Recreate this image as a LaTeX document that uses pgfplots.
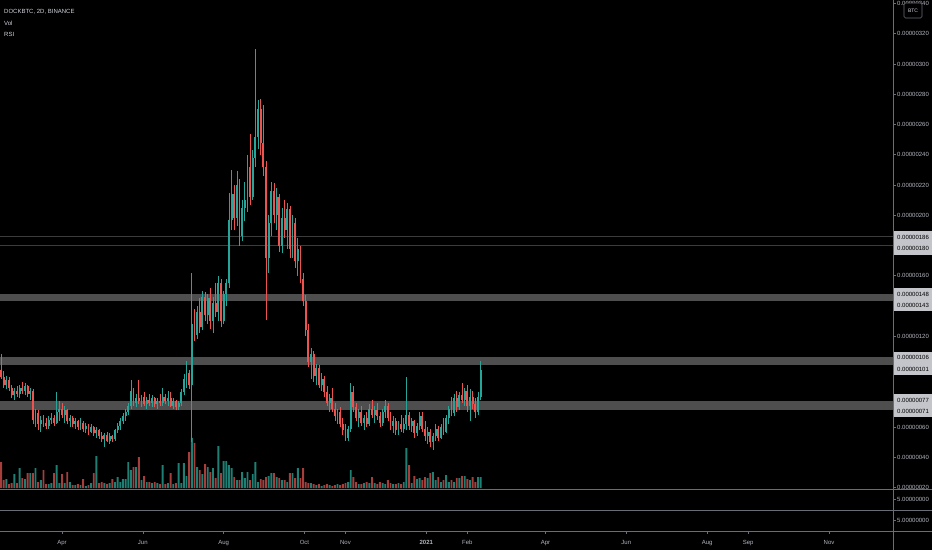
\documentclass[border=0pt]{standalone}
\usepackage{pgfplots}
\usepackage{pgfplotstable}
\usepackage{fontspec}
\pgfplotsset{compat=1.18}
\setmainfont{Liberation Sans}

\definecolor{upc}{HTML}{26A69A}
\definecolor{dnc}{HTML}{EF5350}
\definecolor{upv}{HTML}{1E7F74}
\definecolor{dnv}{HTML}{A63E3C}
\definecolor{band}{HTML}{4E4E4E}
\definecolor{lvl}{HTML}{3C3C3C}
\definecolor{sep}{HTML}{6A6D76}
\definecolor{txt}{HTML}{B2B5BE}
\definecolor{head}{HTML}{D1D4DC}
\definecolor{boxc}{HTML}{C3C5CA}

\newcommand{\tv}{\fontsize{6}{7}\selectfont}

% d = days since 1 Jan 2020, prices in satoshi (1e-8 BTC), v = volume (scaled)
\pgfplotstableread{
d o h l c v
45 98 108 92 93 26
47 93 97 86 88 8
49 88 94 85 91 9
51 91 93 84 86 4
53 86 88 79 81 5
55 81 86 78 84 14
57 84 87 80 82 5
59 82 88 79 86 20
61 86 90 82 84 10
63 84 89 81 87 9
65 87 88 80 82 15
67 82 86 78 84 15
69 84 85 62 65 15
71 65 72 60 69 20
73 69 71 58 62 6
75 62 67 57 65 8
77 65 68 60 63 18
79 63 66 59 61 4
81 61 67 59 65 4
83 65 69 62 66 5
85 66 68 61 63 15
87 63 83 62 70 23
89 70 77 64 72 5
91 72 76 66 68 14
93 68 74 63 71 5
95 71 72 62 64 16
97 64 68 60 66 6
99 66 67 60 62 3
101 62 66 59 64 3
103 64 65 58 60 4
105 60 66 58 63 3
107 63 64 57 59 9
109 59 63 56 61 2
111 61 62 55 57 3
113 57 62 56 60 5
115 60 61 54 56 15
117 56 60 53 58 32
119 58 59 52 54 5
121 54 57 50 52 6
123 52 56 47 55 5
125 55 57 50 51 4
127 51 56 49 54 5
129 54 55 50 52 9
131 52 59 51 58 6
133 58 63 56 61 11
135 61 66 58 64 6
137 64 69 62 67 9
139 67 72 64 70 9
141 70 76 68 74 26
143 74 91 72 84 18
145 84 86 74 76 21
147 76 82 73 79 21
149 79 91 75 77 31
151 77 81 73 80 8
153 80 83 74 75 12
155 75 80 72 78 6
157 78 82 74 76 6
159 76 81 73 79 5
161 79 80 73 75 6
163 75 79 72 77 5
165 77 82 74 76 4
167 76 86 74 80 23
169 80 82 75 77 4
171 77 84 74 79 5
173 79 83 73 74 15
175 74 79 72 77 4
177 77 78 71 73 5
179 73 77 71 76 25
181 76 85 74 83 5
183 83 95 81 92 25
185 92 104 86 96 12
187 96 98 85 88 36
189 88 162 50 128 50
191 128 138 117 121 45
193 121 140 118 136 21
195 136 145 122 126 18
197 126 150 124 146 14
199 146 149 130 134 24
201 134 148 128 145 21
203 145 152 125 130 16
205 130 146 122 142 20
207 142 155 133 136 10
209 136 160 130 155 42
211 155 158 126 130 15
213 130 150 128 148 27
215 148 158 140 155 27
217 155 215 152 197 23
219 197 230 190 214 20
221 214 220 190 198 11
223 198 229 193 220 8
225 220 224 180 186 8
227 186 210 183 205 16
229 205 222 196 210 10
231 210 240 202 232 16
233 232 254 207 212 8
235 212 243 210 238 14
237 238 310 232 252 26
239 252 276 244 270 6
241 270 277 240 248 9
243 248 273 226 232 8
245 232 236 131 172 11
247 172 200 162 195 12
249 195 222 186 216 15
251 216 221 195 200 15
253 200 218 190 212 11
255 212 214 176 180 10
257 180 205 175 198 8
259 198 210 185 190 8
261 190 208 178 204 6
263 204 206 172 178 15
265 178 200 172 195 15
267 195 198 165 170 10
269 170 185 160 178 20
271 178 180 155 158 10
273 158 162 140 143 20
275 143 147 120 124 6
277 124 128 100 103 5
279 103 112 92 108 5
281 108 110 90 94 4
283 94 102 88 99 3
285 99 101 86 88 4
287 88 96 84 92 2
289 92 94 80 83 3
291 83 87 74 76 4
293 76 82 70 79 3
295 79 86 70 72 2
297 72 76 64 67 3
299 67 72 62 70 4
301 70 73 60 62 3
303 62 66 55 58 4
305 58 62 51 53 5
307 53 61 51 59 6
309 59 89 57 83 18
311 83 87 70 73 11
313 73 76 64 66 6
315 66 72 60 70 4
317 70 74 61 63 4
319 63 68 58 66 5
321 66 70 60 62 6
323 62 75 61 72 5
325 72 78 66 68 11
327 68 74 63 71 5
329 71 76 65 67 4
331 67 70 60 63 6
333 63 72 61 70 5
335 70 78 66 74 4
337 74 76 64 66 8
339 66 70 58 61 5
341 61 67 56 64 4
343 64 66 55 58 4
345 58 64 55 62 5
347 62 68 57 59 4
349 59 66 56 62 6
351 62 93 58 68 40
353 68 70 58 61 23
355 61 66 57 64 5
357 64 65 53 56 12
359 56 63 54 61 9
361 61 70 58 67 10
363 67 70 57 59 8
365 59 64 51 54 11
367 54 60 49 57 10
369 57 59 47 50 15
371 50 56 45 54 16
373 54 62 51 59 8
375 59 61 51 53 11
377 53 62 52 60 6
379 60 66 55 57 8
381 57 68 56 66 13
383 66 74 62 72 6
385 72 80 67 69 8
387 69 82 67 79 6
389 79 84 70 73 10
391 73 83 71 81 10
393 81 89 76 78 12
395 78 86 74 84 12
397 84 88 70 74 9
399 74 85 64 80 8
401 80 84 72 75 11
403 75 79 66 70 6
405 70 83 68 80 11
407 80 104 78 98 11
}\candles

\pgfplotsset{
  up/.style={x filter/.expression={\thisrow{c}>=\thisrow{o} ? x : nan}},
  down/.style={x filter/.expression={\thisrow{c}<\thisrow{o} ? x : nan}},
}

\begin{document}
\begin{tikzpicture}
\useasboundingbox (0pt,0pt) rectangle (932pt,550pt);
\fill[black] (0pt,0pt) rectangle (932pt,550pt);

% volume overlay
\begin{scope}[yshift=62pt]
\begin{axis}[at={(0pt,0pt)}, anchor=south west, scale only axis,
  width=893pt, height=60pt, xmin=44.2, xmax=718.3, ymin=0, ymax=60,
  hide axis]
\addplot[ybar, bar width=1.9pt, bar shift=0pt, fill=upv, draw=none, up]
  table[x=d, y=v] \candles;
\addplot[ybar, bar width=1.9pt, bar shift=0pt, fill=dnv, draw=none, down]
  table[x=d, y=v] \candles;
\end{axis}
\end{scope}

% price pane
\begin{scope}[yshift=61pt]
\begin{axis}[at={(0pt,0pt)}, anchor=south west, scale only axis,
  width=893pt, height=489pt, xmin=44.2, xmax=718.3, ymin=19.07, ymax=342.27,
  axis x line=none, axis y line*=right, y axis line style={draw=none},
  ytick={20,40,60,120,160,200,220,240,260,280,300,320,340},
  yticklabels={0.00000020,0.00000040,0.00000060,0.00000120,0.00000160,
    0.00000200,0.00000220,0.00000240,0.00000260,0.00000280,0.00000300,
    0.00000320,0.00000340},
  ytick align=outside, major tick length=3pt,
  y tick style={draw=sep, line width=0.6pt},
  yticklabel style={font=\tv, text=txt, anchor=west, inner sep=1pt}]
\fill[band] (axis cs:44.2,143) rectangle (axis cs:718.3,148);
\fill[band] (axis cs:44.2,101) rectangle (axis cs:718.3,106);
\fill[band] (axis cs:44.2,71) rectangle (axis cs:718.3,77);
\draw[lvl, line width=0.8pt] (axis cs:44.2,186) -- (axis cs:718.3,186);
\draw[lvl, line width=0.8pt] (axis cs:44.2,180) -- (axis cs:718.3,180);
% wicks
\addplot[draw=none, mark=none, up, error bars/.cd, y dir=plus, y explicit,
  error mark=none, error bar style={draw=upc, line width=0.7pt}]
  table[x=d, y=l, y error plus expr=\thisrow{h}-\thisrow{l}] \candles;
\addplot[draw=none, mark=none, down, error bars/.cd, y dir=plus, y explicit,
  error mark=none, error bar style={draw=dnc, line width=0.7pt}]
  table[x=d, y=l, y error plus expr=\thisrow{h}-\thisrow{l}] \candles;
% bodies
\addplot[draw=none, mark=none, up, error bars/.cd, y dir=plus, y explicit,
  error mark=none, error bar style={draw=upc, line width=1.9pt}]
  table[x=d, y=o, y error plus expr=\thisrow{c}-\thisrow{o}] \candles;
\addplot[draw=none, mark=none, down, error bars/.cd, y dir=plus, y explicit,
  error mark=none, error bar style={draw=dnc, line width=1.9pt}]
  table[x=d, y=c, y error plus expr=\thisrow{o}-\thisrow{c}] \candles;
\end{axis}
\end{scope}

% time scale
\begin{scope}[yshift=19pt]
\begin{axis}[at={(0pt,0pt)}, anchor=south west, scale only axis,
  width=893pt, height=21pt, xmin=44.2, xmax=718.3, ymin=0, ymax=1,
  axis y line=none, axis x line*=bottom, x axis line style={draw=none},
  xtick={91,152,213,274,305,366,397,456,517,578,609,670},
  xticklabels={Apr,Jun,Aug,Oct,Nov,\textbf{2021},Feb,Apr,Jun,Aug,Sep,Nov},
  xtick align=outside, major tick length=3pt,
  x tick style={draw=sep, line width=0.6pt},
  xticklabel style={font=\tv, text=txt, anchor=north, inner sep=1pt, yshift=-5pt}]
\end{axis}
\end{scope}

\begin{scope}[x=1pt, y=1pt]
% pane separators and price scale border
\draw[sep, line width=1pt] (0,61) -- (932,61);
\draw[sep, line width=1pt] (0,40) -- (932,40);
\draw[sep, line width=1pt] (0,19) -- (932,19);
\draw[sep, line width=0.8pt] (893,0) -- (893,550);
\draw[sep, line width=0.6pt] (893,51) -- (896,51);
\draw[sep, line width=0.6pt] (893,30) -- (896,30);
\node[font=\tv, text=txt, anchor=west, inner sep=0pt] at (897,51) {5.00000000};
\node[font=\tv, text=txt, anchor=west, inner sep=0pt] at (897,30) {5.00000000};

% highlighted level labels
\foreach \yt/\yo/\ya/\yb/\la/\lb in {
  319/295/313/301.5/0.00000186/0.00000180,
  262/239/256/244.5/0.00000148/0.00000143,
  198/175/192.5/181/0.00000106/0.00000101,
  156/133/150/138.5/0.00000077/0.00000071}{
  \fill[boxc] (893.5,\yo) rectangle (932,\yt);
  \node[font=\tv, text=black, anchor=west, inner sep=0pt] at (897,\ya) {\la};
  \node[font=\tv, text=black, anchor=west, inner sep=0pt] at (897,\yb) {\lb};
}

% currency badge
\draw[sep, fill=black, rounded corners=1.5pt, line width=0.6pt]
  (904,532) rectangle (922,547);
\node[font=\fontsize{5}{6}\selectfont, text=head, inner sep=0pt] at (913,539.5) {BTC};

% legend text
\node[font=\tv, text=head, anchor=west, inner sep=0pt] at (4,538.5) {DOCKBTC, 2D, BINANCE};
\node[font=\tv, text=head, anchor=west, inner sep=0pt] at (4,527) {Vol};
\node[font=\tv, text=head, anchor=west, inner sep=0pt] at (4,516) {RSI};
\end{scope}
\end{tikzpicture}
\end{document}
